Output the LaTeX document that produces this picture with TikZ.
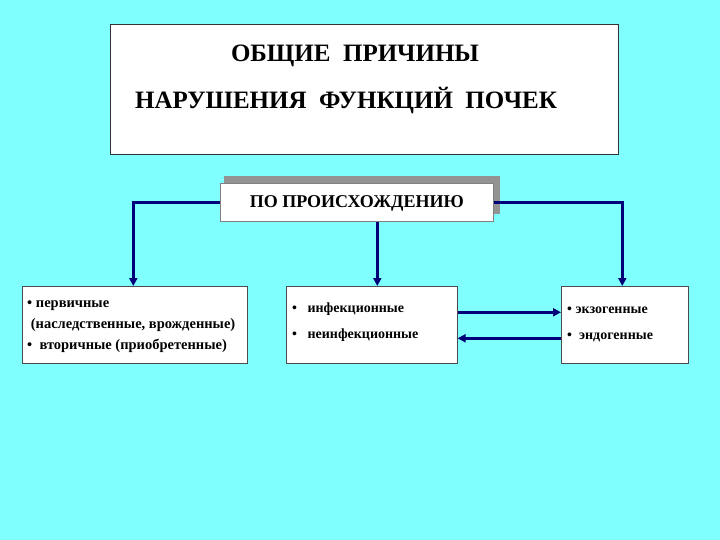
\documentclass[tikz,border=0pt]{standalone}
\usepackage{fontspec}
\setmainfont{Liberation Serif}
\usetikzlibrary{arrows.meta}
\definecolor{bgcyan}{RGB}{128,255,255}
\definecolor{navy}{RGB}{0,0,120}
\tikzset{
  box/.style={draw=black!70, line width=0.6pt, fill=white, inner sep=0pt, anchor=north west},
  conn/.style={draw=navy, line width=2.6pt, -{Triangle[length=8pt,width=8pt]}},
  boxtext/.style={anchor=north west, align=left, font=\bfseries\fontsize{14.5}{22}\selectfont, inner sep=0pt},
}
\begin{document}
\begin{tikzpicture}[x=1pt,y=-1pt]
\fill[bgcyan] (0,0) rectangle (720,540);
\useasboundingbox (0,0) rectangle (720,540);
% title
\node[box, draw=black!80, minimum width=508pt, minimum height=130pt] (title) at (110,24) {};
\node[font=\bfseries\fontsize{25}{28}\selectfont, inner sep=0pt] (t1) at (355,56) {ОБЩИЕ\ \ ПРИЧИНЫ};
\node[font=\bfseries\fontsize{25}{28}\selectfont, inner sep=0pt] (t2) at (346,101) {НАРУШЕНИЯ\ \ ФУНКЦИЙ\ \ ПОЧЕК};
% origin box with shadow
\node[box, draw=none, fill=gray!85, minimum width=276pt, minimum height=38pt] (shadow) at (224,176) {};
\node[box, draw=black!50, minimum width=273pt, minimum height=38pt] (po) at (220,183) {};
\node[font=\bfseries\fontsize{18}{20}\selectfont, inner sep=0pt] (potext) at ([yshift=-1.5pt]po.center) {ПО ПРОИСХОЖДЕНИЮ};
% lower boxes
\node[box, minimum width=225pt, minimum height=77pt] (left) at (22,286) {};
\node[box, minimum width=171pt, minimum height=77pt] (mid) at (286,286) {};
\node[box, minimum width=127pt, minimum height=77pt] (right) at (561,286) {};
\node[boxtext] (lt) at ([shift={(5,14)}]left.north west) {• первичные\\[-1pt]
\ (наследственные, врожденные)\\[-1pt]
•\ \ вторичные (приобретенные)};
\node[boxtext, font=\bfseries\fontsize{14}{26}\selectfont] (mt) at ([shift={(6,17)}]mid.north west) {•\ \ \ инфекционные\\
•\ \ \ неинфекционные};
\node[boxtext, font=\bfseries\fontsize{14}{26}\selectfont] (rt) at ([shift={(6,21)}]right.north west) {• экзогенные\\
•\ \ эндогенные};
% connectors
\draw[conn] (po.west) -| ([xshift=-1.5pt]left.north);
\draw[conn] (po.east) -| ([xshift=-2.5pt]right.north);
\draw[conn] ([xshift=20.5pt]po.south) -- ([xshift=20.5pt]po.south |- mid.north);
\draw[conn] ([yshift=12.5pt]mid.east) -- ([yshift=12.5pt]mid.east -| right.west);
\draw[conn] ([yshift=-13.5pt]right.west) -- ([yshift=-13.5pt]right.west -| mid.east);
\end{tikzpicture}
\end{document}
